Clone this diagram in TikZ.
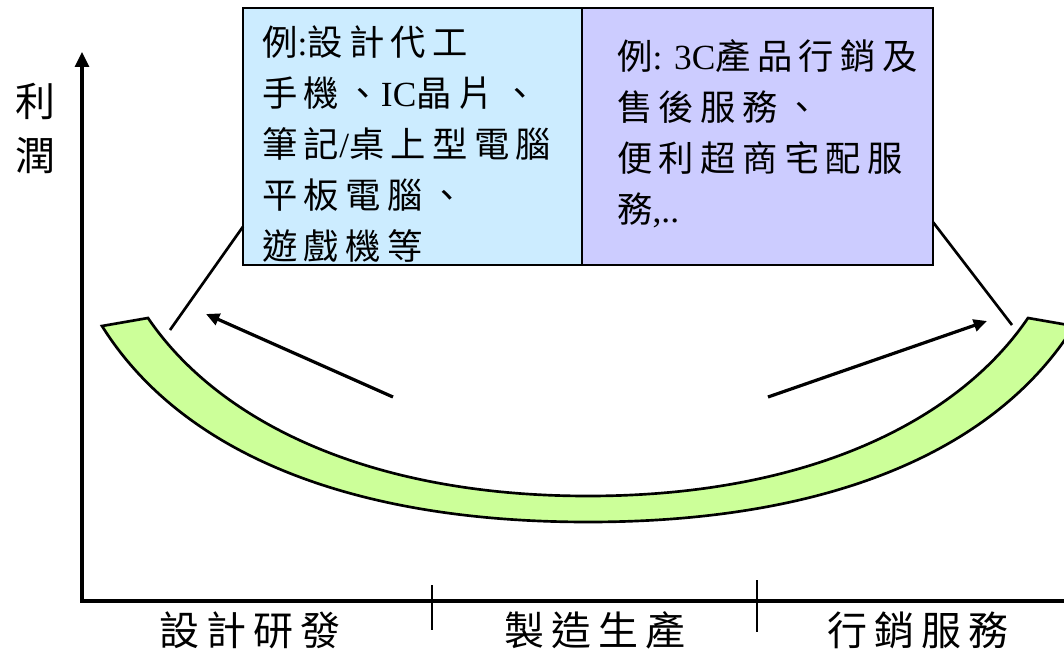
\documentclass[tikz,border=0pt]{standalone}
\usepackage{fontspec}
\setmainfont{Liberation Serif}
\newfontfamily\zhfont{Noto Sans CJK TC}[LetterSpace=18]
\newcommand{\zh}[1]{{\zhfont #1}}
\usetikzlibrary{arrows.meta,positioning}
\definecolor{lboxblue}{HTML}{CCECFF}
\definecolor{rboxblue}{HTML}{CCCCFF}
\definecolor{bandgreen}{HTML}{CCFF99}
\tikzset{%
	infobox/.style = {draw, rectangle, line width=2pt, minimum height=192.75pt, inner sep=0pt, outer sep=0pt},
	boxtext/.style = {align=left, inner sep=0pt, font=\fontsize{26.5pt}{38.25pt}\selectfont},
	stage/.style   = {inner sep=0pt, font=\fontsize{30pt}{36pt}\selectfont\zhfont},
	band/.style    = {draw, fill=bandgreen, line width=2pt},
	pointer/.style = {line width=2.4pt, -{Triangle[length=10pt,width=9pt]}},
	leader/.style  = {line width=2pt},
}

\begin{document}
\begin{tikzpicture}[x=0.75pt,y=-0.75pt]
	\useasboundingbox (0,0) rectangle (1064,649);
	\clip (0,0) rectangle (1064,649);
	
	\draw[band] (102,326) .. controls (177,446) and (338,522) .. (588,522) .. controls (838,522) and (999,446) .. (1074,326)
		-- (1028,318) .. controls (958,421) and (808,496) .. (588,496) .. controls (368,496) and (218,421) .. (148,318) -- cycle;
	
	\node[infobox, fill=lboxblue, minimum width=254.25pt] (lbox) at (412.5,136.5) {};
	\node[infobox, fill=rboxblue, minimum width=263.25pt, right=0pt of lbox] (rbox) {};
	\node[boxtext, below right=12.75pt and 14.25pt of lbox.north west] (ltext) {\zh{例}:\zh{設計代工}\\\zh{手機、}IC\zh{晶片} \zh{、}\\\zh{筆記}/\zh{桌上型電腦}\\\zh{平板電腦、}\\\zh{遊戲機等}};
	\node[boxtext, below right=23.25pt and 26.25pt of rbox.north west] (rtext) {\zh{例}: 3C\zh{產品行銷及}\\\zh{售後服務、}\\\zh{便利超商宅配服}\\\zh{務},..};
	
	\coordinate (lfoot) at (170,330);
	\coordinate (rfoot) at (1012,325);
	\draw[leader] (lfoot) -- (lbox.208);
	\draw[leader] (rfoot) -- (rbox.334);
	
	\coordinate (lfrom) at (393,397);
	\coordinate (lto) at (206,314);
	\coordinate (rfrom) at (768,397);
	\coordinate (rto) at (987,321);
	\draw[pointer] (lfrom) -- (lto);
	\draw[pointer] (rfrom) -- (rto);
	
	\coordinate (origin) at (82,601);
	\coordinate (ytip) at (82,52);
	\coordinate (xend) at (1064,601);
	\draw[line width=2.4pt, -{Triangle[length=11.25pt,width=10.5pt]}] (origin) -- (ytip);
	\draw[line width=3.4pt, shorten <=-1.2pt] (origin) -- (xend);
	\foreach \x/\ya/\yb in {432/585/630, 757/580/632} \draw[line width=1.8pt] (\x,\ya) -- (\x,\yb);
	
	\node[stage] (design) at (250,630) {設計研發};
	\node[stage] (make) at (595,630) {製造生產};
	\node[stage] (market) at (918,630) {行銷服務};
	\node[stage, align=center, font=\fontsize{30pt}{40.5pt}\selectfont\zhfont] (profit) at (36,128) {利\\潤};
\end{tikzpicture}
\end{document}
